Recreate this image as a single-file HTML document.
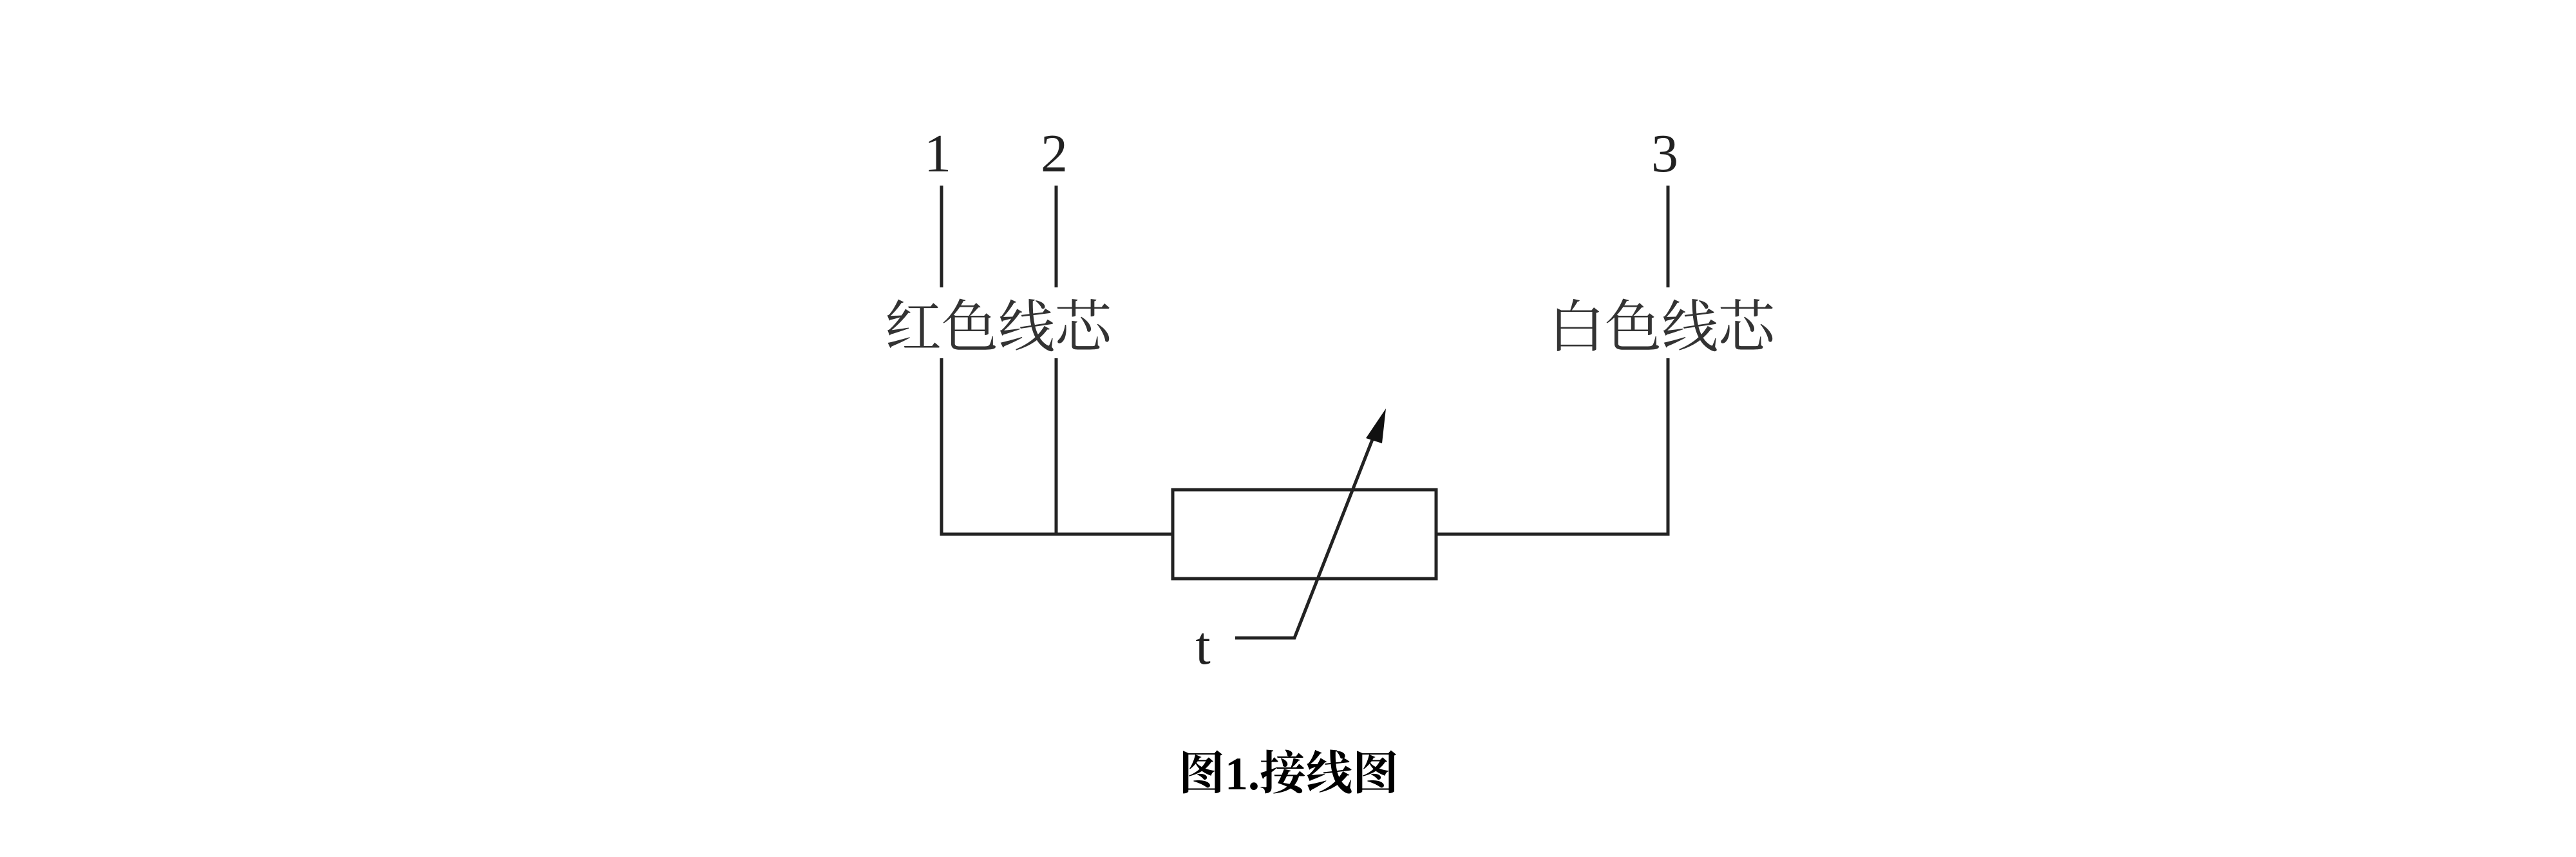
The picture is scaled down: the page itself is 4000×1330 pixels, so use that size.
<!DOCTYPE html>
<html><head><meta charset="utf-8"><style>
html,body{margin:0;padding:0;background:#fff;}
svg{display:block}
</style></head><body>
<svg width="4000" height="1330" viewBox="0 0 4000 1330" xmlns="http://www.w3.org/2000/svg">
<g stroke="#222" stroke-width="5" fill="none">
<line x1="1462" y1="288" x2="1462" y2="446"/>
<line x1="1640" y1="288" x2="1640" y2="446"/>
<line x1="2590" y1="288" x2="2590" y2="446"/>
<polyline points="1462,556 1462,829 1821,829"/>
<line x1="1640" y1="556" x2="1640" y2="829"/>
<polyline points="2230,829 2590,829 2590,556"/>
<rect x="1821" y="760" width="409" height="138"/>
<polyline points="1918,990 2010,990 2135,672"/>
</g>
<polygon points="2152,634 2121,680 2146,688" fill="#111"/>
<g font-family="'Liberation Serif','Noto Serif CJK SC',serif" fill="#222" font-size="84" text-anchor="middle">
<text x="1456" y="266">1</text>
<text x="1637" y="266">2</text>
<text x="2585" y="266">3</text>
<text x="1868" y="1030">t</text>
</g>
<g font-family="'Noto Serif CJK SC',serif" fill="#333" font-size="88" text-anchor="middle">
<text x="1550" y="538">红色线芯</text>
<text x="2580" y="538">白色线芯</text>
</g>
<text x="2001" y="1225" font-family="'Liberation Serif','Noto Serif CJK SC',serif" font-weight="bold" font-size="72" text-anchor="middle" fill="#000">图1.接线图</text>
</svg>
</body></html>
